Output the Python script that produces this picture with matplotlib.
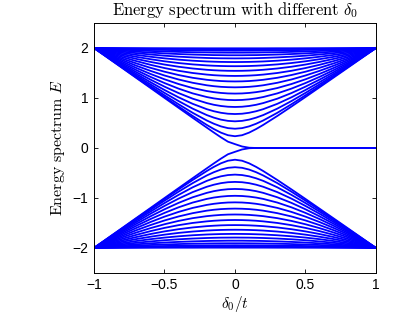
import numpy as np
import matplotlib
matplotlib.use("Agg")
import matplotlib.pyplot as plt

plt.rcParams['mathtext.fontset'] = 'cm'
plt.rcParams['font.family'] = ['Liberation Sans', 'DejaVu Sans']

# delta_0 / t sample positions (denser near 0 where the curves bend)
delta = [-1.0, -0.9, -0.8, -0.7, -0.6, -0.5, -0.4, -0.3, -0.2, -0.15, -0.1, -0.05,
         0.0, 0.05, 0.1, 0.15, 0.2, 0.3, 0.4, 0.5, 0.6, 0.7, 0.8, 0.9, 1.0]

# upper band levels E (the lower band is the mirror -E)
levels = [
    [2.0, 1.999, 1.998, 1.997, 1.996, 1.996, 1.995, 1.995, 1.994, 1.994, 1.994, 1.994, 1.994,
     1.994, 1.994, 1.994, 1.994, 1.995, 1.995, 1.996, 1.996, 1.997, 1.998, 1.999, 2.0],
    [2.0, 1.996, 1.992, 1.988, 1.985, 1.982, 1.980, 1.979, 1.978, 1.977, 1.977, 1.977, 1.977,
     1.977, 1.977, 1.977, 1.978, 1.979, 1.980, 1.982, 1.985, 1.988, 1.992, 1.996, 2.0],
    [2.0, 1.990, 1.981, 1.973, 1.967, 1.961, 1.956, 1.952, 1.950, 1.949, 1.948, 1.948, 1.947,
     1.948, 1.948, 1.949, 1.950, 1.952, 1.956, 1.961, 1.967, 1.973, 1.981, 1.990, 2.0],
    [2.0, 1.983, 1.967, 1.953, 1.941, 1.931, 1.922, 1.915, 1.911, 1.909, 1.908, 1.907, 1.907,
     1.907, 1.908, 1.909, 1.911, 1.915, 1.922, 1.931, 1.941, 1.953, 1.967, 1.983, 2.0],
    [2.0, 1.973, 1.949, 1.927, 1.908, 1.892, 1.879, 1.869, 1.861, 1.858, 1.857, 1.855, 1.855,
     1.855, 1.857, 1.858, 1.861, 1.869, 1.879, 1.892, 1.908, 1.927, 1.949, 1.973, 2.0],
    [2.0, 1.962, 1.928, 1.897, 1.870, 1.846, 1.827, 1.812, 1.801, 1.797, 1.794, 1.793, 1.792,
     1.793, 1.794, 1.797, 1.801, 1.812, 1.827, 1.846, 1.870, 1.897, 1.928, 1.962, 2.0],
    [2.0, 1.950, 1.904, 1.862, 1.825, 1.793, 1.767, 1.746, 1.731, 1.726, 1.722, 1.720, 1.719,
     1.720, 1.722, 1.726, 1.731, 1.746, 1.767, 1.793, 1.825, 1.862, 1.904, 1.950, 2.0],
    [2.0, 1.936, 1.877, 1.823, 1.776, 1.734, 1.699, 1.672, 1.652, 1.645, 1.640, 1.637, 1.636,
     1.637, 1.640, 1.645, 1.652, 1.672, 1.699, 1.734, 1.776, 1.823, 1.877, 1.936, 2.0],
    [2.0, 1.922, 1.849, 1.782, 1.722, 1.669, 1.625, 1.590, 1.564, 1.555, 1.548, 1.544, 1.543,
     1.544, 1.548, 1.555, 1.564, 1.590, 1.625, 1.669, 1.722, 1.782, 1.849, 1.922, 2.0],
    [2.0, 1.906, 1.819, 1.738, 1.664, 1.599, 1.544, 1.500, 1.468, 1.456, 1.448, 1.443, 1.441,
     1.443, 1.448, 1.456, 1.468, 1.500, 1.544, 1.599, 1.664, 1.738, 1.819, 1.906, 2.0],
    [2.0, 1.891, 1.788, 1.692, 1.604, 1.526, 1.459, 1.404, 1.364, 1.350, 1.339, 1.333, 1.331,
     1.333, 1.339, 1.350, 1.364, 1.404, 1.459, 1.526, 1.604, 1.692, 1.788, 1.891, 2.0],
    [2.0, 1.876, 1.758, 1.646, 1.543, 1.450, 1.370, 1.304, 1.254, 1.236, 1.223, 1.216, 1.213,
     1.216, 1.223, 1.236, 1.254, 1.304, 1.370, 1.450, 1.543, 1.646, 1.758, 1.876, 2.0],
    [2.0, 1.861, 1.728, 1.601, 1.482, 1.374, 1.279, 1.199, 1.139, 1.117, 1.101, 1.091, 1.088,
     1.091, 1.101, 1.117, 1.139, 1.199, 1.279, 1.374, 1.482, 1.601, 1.728, 1.861, 2.0],
    [2.0, 1.848, 1.700, 1.558, 1.423, 1.299, 1.187, 1.092, 1.019, 0.992, 0.973, 0.961, 0.957,
     0.961, 0.973, 0.992, 1.019, 1.092, 1.187, 1.299, 1.423, 1.558, 1.700, 1.848, 2.0],
    [2.0, 1.835, 1.674, 1.518, 1.368, 1.227, 1.098, 0.986, 0.898, 0.864, 0.840, 0.825, 0.820,
     0.825, 0.840, 0.864, 0.898, 0.986, 1.098, 1.227, 1.368, 1.518, 1.674, 1.835, 2.0],
    [2.0, 1.824, 1.651, 1.482, 1.317, 1.160, 1.013, 0.883, 0.776, 0.735, 0.704, 0.685, 0.679,
     0.685, 0.704, 0.735, 0.776, 0.883, 1.013, 1.160, 1.317, 1.482, 1.651, 1.824, 2.0],
    [2.0, 1.815, 1.632, 1.451, 1.274, 1.102, 0.938, 0.787, 0.658, 0.607, 0.567, 0.542, 0.533,
     0.542, 0.567, 0.607, 0.658, 0.787, 0.938, 1.102, 1.274, 1.451, 1.632, 1.815, 2.0],
    [2.0, 1.808, 1.617, 1.427, 1.239, 1.054, 0.874, 0.703, 0.550, 0.485, 0.432, 0.397, 0.385,
     0.397, 0.432, 0.485, 0.550, 0.703, 0.874, 1.054, 1.239, 1.427, 1.617, 1.808, 2.0],
    [2.0, 1.803, 1.606, 1.410, 1.215, 1.020, 0.828, 0.640, 0.461, 0.379, 0.307, 0.255, 0.235,
     0.255, 0.307, 0.379, 0.461, 0.640, 0.828, 1.020, 1.215, 1.410, 1.606, 1.803, 2.0],
    # lowest level: becomes the zero-energy edge state for delta_0 > 0
    [2.0, 1.800, 1.601, 1.401, 1.202, 1.002, 0.803, 0.604, 0.407, 0.309, 0.214, 0.126, 0.077,
     0.030, 0.005, 0.0, 0.0, 0.0, 0.0, 0.0, 0.0, 0.0, 0.0, 0.0, 0.0],
]

fig = plt.figure(figsize=(4.15, 3.13), dpi=100)
ax = fig.add_axes([0.2265, 0.128, 0.6795, 0.7985])

x = np.array(delta)
for row in levels:
    e = np.array(row)
    ax.plot(x, e, color='#0000ff', lw=1.3)
    ax.plot(x, -e, color='#0000ff', lw=1.3)

ax.set_xlim(-1, 1)
ax.set_ylim(-2.5, 2.5)
ax.set_xticks([-1, -0.5, 0, 0.5, 1])
ax.set_xticklabels(['\u22121', '\u22120.5', '0', '0.5', '1'])
ax.set_yticks([-2, -1, 0, 1, 2])
ax.set_yticklabels(['\u22122', '\u22121', '0', '1', '2'])
ax.tick_params(direction='in', length=3, width=0.6, top=True, right=True,
               labelsize=10, pad=4)
for s in ax.spines.values():
    s.set_linewidth(0.7)

ax.set_title(r'$\mathrm{Energy\ spectrum\ with\ different}\ \delta_0$', fontsize=12, pad=6)
ax.set_xlabel(r'$\delta_0/t$', fontsize=11, labelpad=1)
ax.set_ylabel(r'$\mathrm{Energy\ spectrum}\ E$', fontsize=11.5, labelpad=4)

fig.savefig('out.png', dpi=100)
